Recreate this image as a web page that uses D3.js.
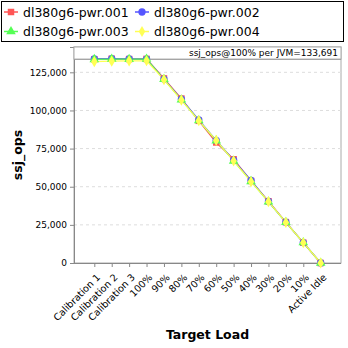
<!DOCTYPE html>
<html><head><meta charset="utf-8">
<script src="https://cdn.jsdelivr.net/npm/d3@7"></script>
<style>body{margin:0;background:#fff}svg{display:block}text{font-family:"DejaVu Sans",sans-serif}</style>
</head><body><svg id="c" width="348" height="348"></svg>
<script>
const categories = ["Calibration 1","Calibration 2","Calibration 3","100%","90%","80%","70%","60%","50%","40%","30%","20%","10%","Active Idle"];
const seriesNames = ["dl380g6-pwr.001","dl380g6-pwr.002","dl380g6-pwr.003","dl380g6-pwr.004"];
const pwr001 = [133600,133900,133700,133800,121000,107800,93200,79000,68000,53800,40500,26800,13300,0];
const pwr002 = [133800,134000,133800,133700,120600,107400,93800,80400,67400,54200,40300,26700,13400,0];
const pwr003 = [133500,133700,133600,133700,120400,107000,93400,80200,66900,53500,40100,26700,13400,0];
const pwr004 = [132000,132300,132500,132600,120200,106800,93300,80400,67000,53300,40200,26600,13300,0];
const colors = ["#ff5555","#5555ff","#55ff55","#ffff55"];
const yTicks = [0,25000,50000,75000,100000,125000];
const refValue = 133691;
const refLabel = "ssj_ops@100% per JVM=133,691";
const allSeries = [pwr001,pwr002,pwr003,pwr004];

const svg = d3.select("#c");
const L=74, R=341, T=47, B=263;
const x = d3.scalePoint().domain(categories).range([94.3,320.7]);
const y = d3.scaleLinear().domain([0,141600]).range([B,T]);

// legend
const lg = svg.append("g");
lg.append("rect").attr("x",1.5).attr("y",1.5).attr("width",342).attr("height",40).attr("fill","#fff").attr("stroke","#000");
const shapes=[d3.symbolSquare,d3.symbolCircle,d3.symbolTriangle,d3.symbolDiamond];
const sizes=[42,42,40,36];
seriesNames.forEach((n,i)=>{
  const cx = 11 + (i%2)*131, cy = 12 + Math.floor(i/2)*19.5;
  lg.append("line").attr("x1",cx-7).attr("x2",cx+7).attr("y1",cy).attr("y2",cy).attr("stroke",colors[i]).attr("stroke-width",1.5);
  lg.append("path").attr("d",d3.symbol().type(shapes[i]).size(sizes[i])()).attr("transform",`translate(${cx},${cy})`).attr("fill",colors[i]);
  lg.append("text").attr("x",cx+12).attr("y",cy+4.5).attr("font-size",12.5).text(n);
});

// plot frame
svg.append("rect").attr("x",L).attr("y",T).attr("width",R-L).attr("height",B-T).attr("fill","#fff").attr("stroke","#aaa");
// grid
svg.append("g").selectAll("line").data(yTicks.filter(d=>d>0)).join("line")
  .attr("x1",L).attr("x2",R).attr("y1",d=>y(d)).attr("y2",d=>y(d))
  .attr("stroke","#ddd").attr("stroke-dasharray","3,3");

// axes
const ya = svg.append("g").attr("transform",`translate(${L},0)`)
  .call(d3.axisLeft(y).tickValues(yTicks).tickFormat(d3.format(",")).tickSize(4).tickPadding(3));
ya.select(".domain").attr("stroke","#888");
ya.selectAll(".tick line").attr("stroke","#888");
ya.selectAll("text").attr("font-size",9).attr("fill","#000").style("font-family","DejaVu Sans");
const xa = svg.append("g").attr("transform",`translate(0,${B})`)
  .call(d3.axisBottom(x).tickSize(4).tickSizeOuter(0));
xa.select(".domain").attr("stroke","#888").attr("d",`M${L},0.5H${R}`);
xa.selectAll(".tick line").attr("stroke","#888");
xa.selectAll("text").attr("font-size",9.6).attr("fill","#000").style("font-family","DejaVu Sans")
  .attr("text-anchor","end").attr("dy","0").attr("y",0)
  .attr("transform","translate(6,15) rotate(-45)");

// reference line and label
svg.append("line").attr("x1",L).attr("x2",R).attr("y1",y(refValue)).attr("y2",y(refValue)).attr("stroke","#777").attr("stroke-width",1.2);
svg.append("rect").attr("x",L).attr("y",T).attr("width",R-L).attr("height",y(refValue)-T).attr("fill","#fff").attr("stroke","#aaa");
svg.append("text").attr("x",R-3).attr("y",T+9).attr("text-anchor","end").attr("font-size",9).text(refLabel);

// series
allSeries.forEach((s,i)=>{
  svg.append("path").datum(s).attr("fill","none").attr("stroke",colors[i]).attr("stroke-width",1.2)
    .attr("d",d3.line().x((d,j)=>x(categories[j])).y(d=>y(d)));
});
allSeries.forEach((s,i)=>{
  svg.append("g").selectAll("path").data(s).join("path")
    .attr("d",d3.symbol().type(shapes[i]).size(sizes[i]))
    .attr("transform",(d,j)=>`translate(${x(categories[j])},${y(d)})`)
    .attr("fill",colors[i]);
});

// axis titles
svg.append("text").attr("x",(L+R)/2).attr("y",339).attr("text-anchor","middle").attr("font-size",12.5).attr("font-weight","bold").text("Target Load");
svg.append("text").attr("transform",`translate(22,${(T+B)/2}) rotate(-90)`).attr("text-anchor","middle").attr("font-size",12.5).attr("font-weight","bold").text("ssj_ops");
</script></body></html>
